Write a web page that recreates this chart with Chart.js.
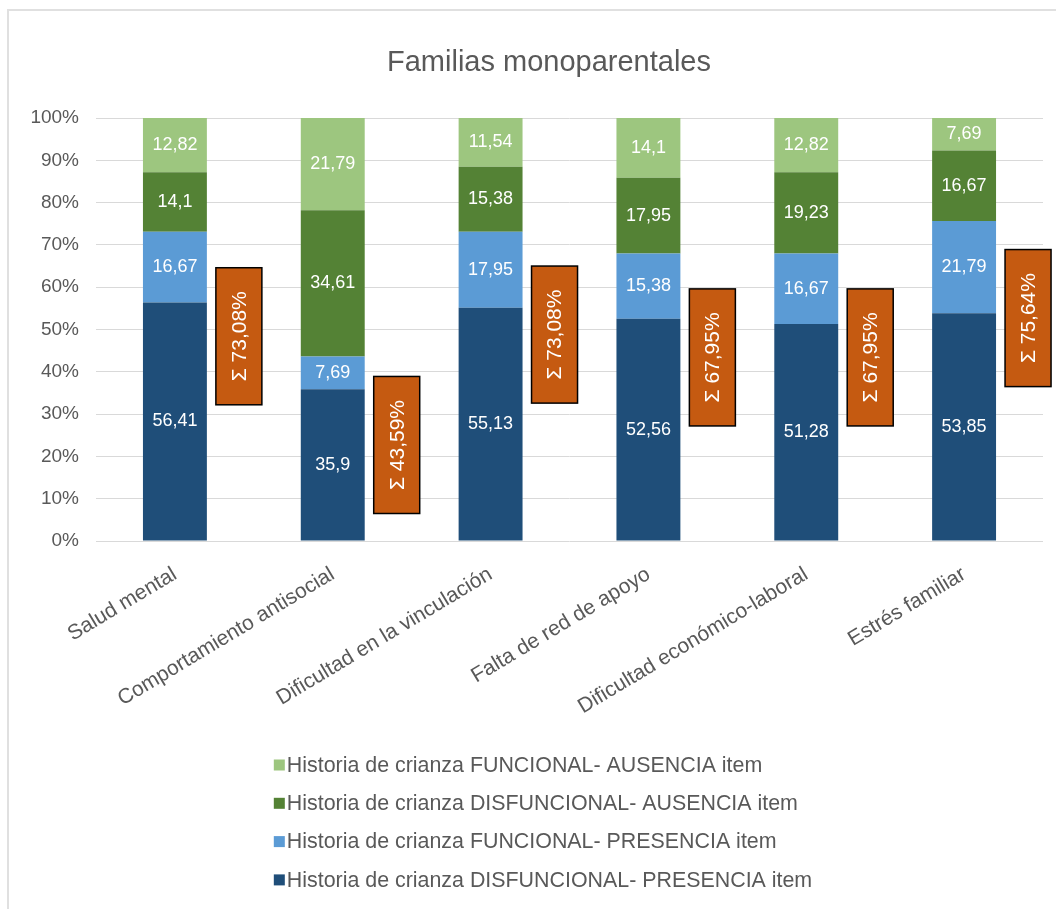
<!DOCTYPE html>
<html>
<head>
<meta charset="utf-8">
<script src="https://cdn.jsdelivr.net/npm/chart.js@4"></script>
<style>
    html, body { margin: 0; padding: 0; background: #fff; overflow: hidden; }
    #frame { position: absolute; left: 7px; top: 9px; width: 1120px; height: 960px; border: 2px solid #e0e0e0; }
    #myChart { position: absolute; left: 8px; top: 10px; }
</style>
</head>
<body>
<div id="frame"></div>
<canvas id="myChart" width="1082" height="899"></canvas>
<script>
    // Categorías y series (porcentajes)
    const titulo = 'Familias monoparentales';
    const categorias = ['Salud mental', 'Comportamiento antisocial', 'Dificultad en la vinculación',
        'Falta de red de apoyo', 'Dificultad económico-laboral', 'Estrés familiar'];
    const disfPresencia = [56.41, 35.9, 55.13, 52.56, 51.28, 53.85];
    const funcPresencia = [16.67, 7.69, 17.95, 15.38, 16.67, 21.79];
    const disfAusencia = [14.1, 34.61, 15.38, 17.95, 19.23, 16.67];
    const funcAusencia = [12.82, 21.79, 11.54, 14.1, 12.82, 7.69];
    const sumas = ['73,08%', '43,59%', '73,08%', '67,95%', '67,95%', '75,64%'];
    const ticksY = [0, 10, 20, 30, 40, 50, 60, 70, 80, 90, 100];

    // Colocación vertical de los recuadros naranjas (centro, en % del eje)
    const centroRecuadro = [48.4, 22.7, 48.8, 43.4, 43.4, 52.7];
    const altoRecuadro = 32.4;

    const gris = '#595959';
    const fuente = '"Liberation Sans", Arial, sans-serif';

    const coma = v => String(v).replace('.', ',');

    // Título centrado sobre todo el objeto del gráfico
    const tituloPlugin = {
        id: 'titulo',
        afterDraw(chart) {
            const ctx = chart.ctx;
            ctx.save();
            ctx.fillStyle = gris;
            ctx.font = '29px ' + fuente;
            ctx.textAlign = 'center';
            ctx.textBaseline = 'middle';
            ctx.fillText(titulo, chart.width / 2, 53);
            ctx.restore();
        }
    };

    // Etiquetas de valor dentro de cada segmento
    const etiquetasPlugin = {
        id: 'etiquetas',
        afterDatasetsDraw(chart) {
            const ctx = chart.ctx;
            ctx.save();
            ctx.fillStyle = '#ffffff';
            ctx.font = '18px ' + fuente;
            ctx.textAlign = 'center';
            ctx.textBaseline = 'middle';
            chart.data.datasets.forEach((ds, di) => {
                chart.getDatasetMeta(di).data.forEach((bar, i) => {
                    ctx.fillText(coma(ds.data[i]), bar.x, (bar.y + bar.base) / 2);
                });
            });
            ctx.restore();
        }
    };

    // Recuadros con la suma de las dos series de presencia
    const sumasPlugin = {
        id: 'sumas',
        afterDatasetsDraw(chart) {
            const ctx = chart.ctx;
            const y = chart.scales.y;
            const barras = chart.getDatasetMeta(0).data;
            ctx.save();
            barras.forEach((bar, i) => {
                const left = bar.x + bar.width / 2 + 9;
                const w = 46;
                const top = y.getPixelForValue(centroRecuadro[i] + altoRecuadro / 2);
                const bottom = y.getPixelForValue(centroRecuadro[i] - altoRecuadro / 2);
                ctx.fillStyle = '#C55A11';
                ctx.fillRect(left, top, w, bottom - top);
                ctx.strokeStyle = '#000000';
                ctx.lineWidth = 1.5;
                ctx.strokeRect(left, top, w, bottom - top);
                ctx.translate(left + w / 2, (top + bottom) / 2);
                ctx.rotate(-Math.PI / 2);
                ctx.fillStyle = '#ffffff';
                ctx.font = '21px ' + fuente;
                ctx.textAlign = 'center';
                ctx.textBaseline = 'middle';
                ctx.fillText('\u03A3 ' + sumas[i], 0, 1);
                ctx.setTransform(1, 0, 0, 1, 0, 0);
            });
            ctx.restore();
        }
    };

    // Leyenda vertical (una serie por línea, en orden inverso)
    const leyendaPlugin = {
        id: 'leyendaVertical',
        afterDraw(chart) {
            const ctx = chart.ctx;
            ctx.save();
            ctx.font = '21.4px ' + fuente;
            const items = chart.data.datasets.map(ds => ({ text: ds.label, color: ds.backgroundColor })).reverse();
            const maxW = Math.max(...items.map(it => ctx.measureText(it.text).width));
            const bloque = 11 + 2 + maxW;
            const x0 = chart.width / 2 - 6 - bloque / 2;
            const y0 = 755;
            items.forEach((it, k) => {
                const yy = y0 + k * 38.3;
                ctx.fillStyle = it.color;
                ctx.fillRect(x0, yy - 5.5, 11, 11);
                ctx.fillStyle = gris;
                ctx.textAlign = 'left';
                ctx.textBaseline = 'middle';
                ctx.fillText(it.text, x0 + 13, yy + 1);
            });
            ctx.restore();
        }
    };

    const ctx = document.getElementById('myChart').getContext('2d');
    new Chart(ctx, {
        type: 'bar',
        data: {
            labels: categorias,
            datasets: [
                { label: 'Historia de crianza DISFUNCIONAL- PRESENCIA item', data: disfPresencia, backgroundColor: '#1F4E79' },
                { label: 'Historia de crianza FUNCIONAL- PRESENCIA item', data: funcPresencia, backgroundColor: '#5B9BD5' },
                { label: 'Historia de crianza DISFUNCIONAL- AUSENCIA item', data: disfAusencia, backgroundColor: '#548235' },
                { label: 'Historia de crianza FUNCIONAL- AUSENCIA item', data: funcAusencia, backgroundColor: '#9DC67F' }
            ]
        },
        options: {
            responsive: false,
            animation: false,
            layout: { padding: { left: 0, right: 47, top: 108, bottom: 0 } },
            datasets: { bar: { categoryPercentage: 1, barPercentage: 0.405 } },
            plugins: {
                legend: { display: false },
                tooltip: { enabled: false },
                title: { display: false }
            },
            scales: {
                x: {
                    stacked: true,
                    grid: { display: false, drawTicks: false },
                    border: { display: false },
                    ticks: {
                        color: gris,
                        font: { family: fuente, size: 21 },
                        minRotation: 31,
                        maxRotation: 31,
                        autoSkip: false,
                        padding: 21
                    },
                    afterFit(scale) { scale.height = 368; }
                },
                y: {
                    stacked: true,
                    min: 0,
                    max: 100,
                    grid: { color: '#d9d9d9', lineWidth: 1, drawTicks: false },
                    border: { display: false },
                    afterBuildTicks(scale) { scale.ticks = ticksY.map(v => ({ value: v })); },
                    ticks: {
                        color: gris,
                        font: { family: fuente, size: 19 },
                        padding: 17,
                        callback: v => v + '%'
                    },
                    afterFit(scale) { scale.width = 88; }
                }
            }
        },
        plugins: [tituloPlugin, etiquetasPlugin, sumasPlugin, leyendaPlugin]
    });
</script>
</body>
</html>
